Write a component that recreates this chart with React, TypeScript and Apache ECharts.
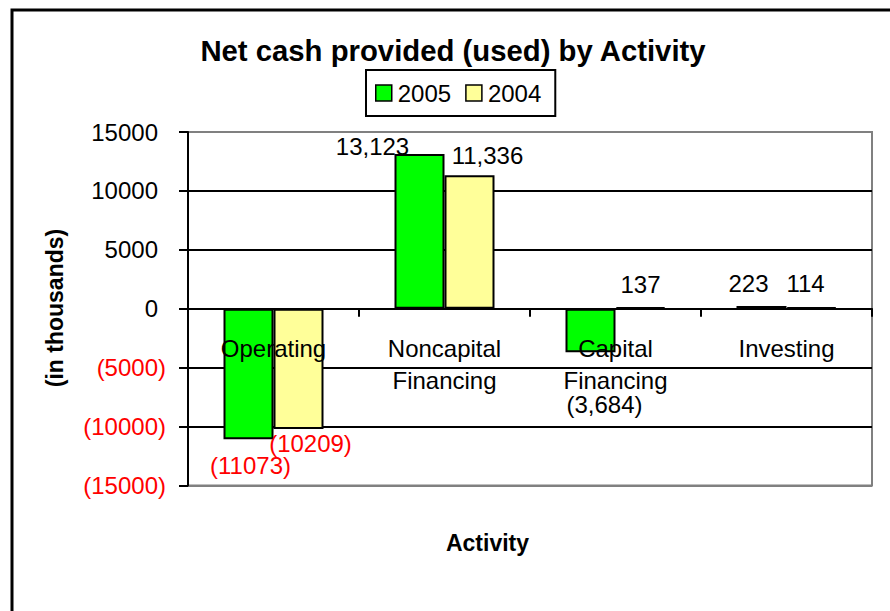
import React, { useEffect, useRef } from "react";
import * as echarts from "echarts";

const categories = ["Operating", "Noncapital\nFinancing", "Capital\nFinancing", "Investing"];
const seriesNames = ["2005", "2004"];
const values2005 = [-11073, 13123, -3684, 223];
const values2004 = [-10209, 11336, 137, 114];
const yMin = -15000;
const yMax = 15000;
const yStep = 5000;

// label nudges (pixels) to mimic the hand-placed data labels
const offsets2005 = [[2, 14], [-47, 4], [14, 40], [-13, -11]];
const offsets2004 = [[12, 2], [18, -8], [0, -10], [-6, -12]];

const FONT = "'Liberation Sans', Arial, Helvetica, sans-serif";

function fmtLabel(v: number, i: number): string {
  const a = Math.abs(v);
  if (i === 0) return `(${a})`;
  const s = a.toLocaleString("en-US");
  return v < 0 ? `(${s})` : s;
}

function buildData(values: number[], offsets: number[][]) {
  return values.map((v, i) => ({
    value: v,
    label: {
      show: true,
      position: v < 0 ? "bottom" : "top",
      distance: 0,
      offset: offsets[i],
      color: i === 0 ? "#FF0000" : "#000000",
      formatter: () => fmtLabel(v, i),
    },
  }));
}

export default function App() {
  const ref = useRef<HTMLDivElement>(null);
  useEffect(() => {
    if (!ref.current) return;
    const chart = echarts.init(ref.current, null, { renderer: "svg" });
    const labelStyle = { fontSize: 24, fontFamily: FONT, lineHeight: 24 };
    chart.setOption({
      animation: false,
      backgroundColor: "#ffffff",
      textStyle: { fontFamily: FONT },
      grid: {
        left: 188,
        right: 18,
        top: 132,
        bottom: 125.5,
        show: true,
        borderColor: "#808080",
        borderWidth: 2,
        backgroundColor: "transparent",
      },
      legend: {
        data: seriesNames,
        left: 366,
        top: 70,
        orient: "horizontal",
        padding: [11, 14, 11, 9],
        borderColor: "#000000",
        borderWidth: 2,
        itemWidth: 16,
        itemHeight: 16,
        itemGap: 14,
        icon: "rect",
        itemStyle: { borderColor: "#000000", borderWidth: 1.5 },
        textStyle: { fontSize: 24, fontFamily: FONT, color: "#000000", padding: [0, 0, 0, 1] },
      },
      xAxis: {
        type: "category",
        data: categories,
        z: 10,
        axisLine: { show: true, onZero: true, lineStyle: { color: "#000000", width: 2 } },
        axisTick: { show: true, inside: false, length: 8, lineStyle: { color: "#000000", width: 2 } },
        axisLabel: {
          interval: 0,
          margin: -153.5,
          fontSize: 24,
          lineHeight: 32,
          fontFamily: FONT,
          color: "#000000",
        },
        splitLine: { show: false },
      },
      yAxis: {
        type: "value",
        min: yMin,
        max: yMax,
        interval: yStep,
        axisLine: { show: true, lineStyle: { color: "#000000", width: 2 } },
        axisTick: { show: true, inside: false, length: 9, lineStyle: { color: "#000000", width: 2 } },
        axisLabel: {
          margin: 22,
          formatter: (v: number) => (v < 0 ? `{n|(${Math.abs(v)})}` : `{p|${v}}{s| }`),
          rich: {
            p: { fontSize: 24, fontFamily: FONT, color: "#000000" },
            n: { fontSize: 24, fontFamily: FONT, color: "#FF0000" },
            s: { fontSize: 24, width: 8 },
          },
        },
        splitLine: {
          show: true,
          lineStyle: {
            color: ["#808080", "#000000", "#000000", "#000000", "#000000", "#000000", "#808080"],
            width: 2,
          },
        },
      },
      series: [
        {
          name: seriesNames[0],
          type: "bar",
          barWidth: 50,
          barGap: "0%",
          itemStyle: { color: "#00FF00", borderColor: "#000000", borderWidth: 2 },
          label: { ...labelStyle },
          data: buildData(values2005, offsets2005),
        },
        {
          name: seriesNames[1],
          type: "bar",
          barWidth: 50,
          barGap: "0%",
          itemStyle: { color: "#FFFF99", borderColor: "#000000", borderWidth: 2 },
          label: { ...labelStyle },
          data: buildData(values2004, offsets2004),
        },
      ],
      graphic: [
        {
          type: "rect",
          z: 100,
          shape: { x: 12, y: 10, width: 1000, height: 1000 },
          style: { fill: "none", stroke: "#000000", lineWidth: 3 },
        },
        {
          type: "text",
          x: 453,
          y: 50,
          style: {
            text: "Net cash provided (used) by Activity",
            fontSize: 29.3,
            fontWeight: "bold",
            fontFamily: FONT,
            fill: "#000000",
            align: "center",
            verticalAlign: "middle",
          },
        },
        {
          type: "text",
          x: 55,
          y: 308,
          rotation: Math.PI / 2,
          style: {
            text: "(in thousands)",
            fontSize: 23,
            fontWeight: "bold",
            fontFamily: FONT,
            fill: "#000000",
            align: "center",
            verticalAlign: "middle",
          },
        },
        {
          type: "text",
          x: 487.5,
          y: 543,
          style: {
            text: "Activity",
            fontSize: 23,
            fontWeight: "bold",
            fontFamily: FONT,
            fill: "#000000",
            align: "center",
            verticalAlign: "middle",
          },
        },
      ],
    });
    return () => chart.dispose();
  }, []);
  return (
    <div
      ref={ref}
      style={{ position: "fixed", left: 0, top: 0, width: 890, height: 611, background: "#ffffff" }}
    />
  );
}
